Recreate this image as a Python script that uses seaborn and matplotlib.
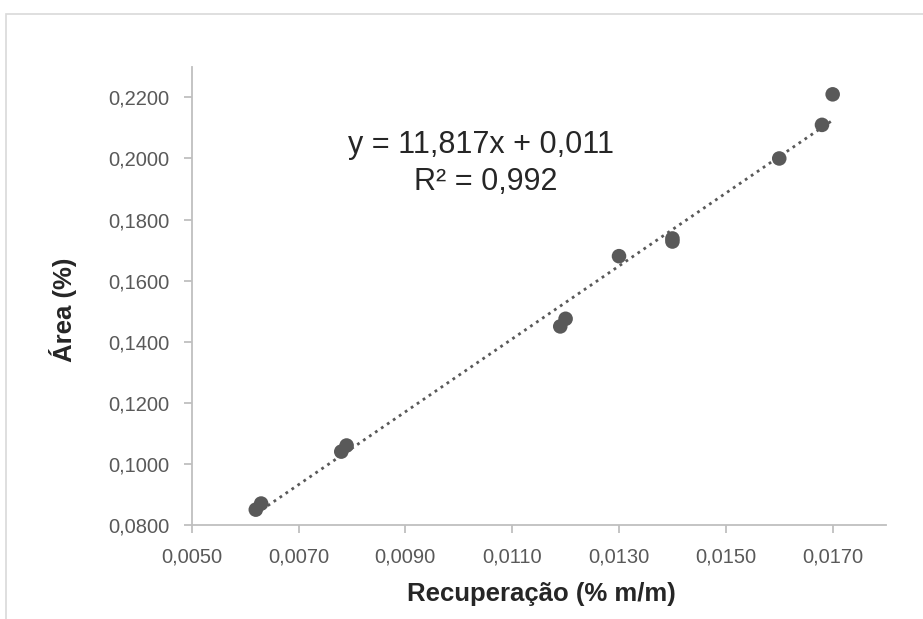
"""Calibration scatter: Área (%) vs Recuperação (% m/m) with linear trendline."""

import matplotlib

matplotlib.use("Agg")
import matplotlib.pyplot as plt
import numpy as np
import pandas as pd
import seaborn as sns
from matplotlib.patches import Rectangle
from matplotlib.ticker import FuncFormatter, MultipleLocator

# values
recuperacao = [0.0062, 0.0063, 0.0078, 0.0079, 0.0119, 0.0120,
               0.0130, 0.0140, 0.0140, 0.0160, 0.0168, 0.0170]
area = [0.0850, 0.0870, 0.1040, 0.1060, 0.1450, 0.1475,
        0.1680, 0.1728, 0.1738, 0.2000, 0.2110, 0.2210]
x_ticks = [0.0050, 0.0070, 0.0090, 0.0110, 0.0130, 0.0150, 0.0170]
equation = "y = 11,817x + 0,011"
r_squared = "R² = 0,992"

df = pd.DataFrame({"rec": recuperacao, "area": area})

sns.set_theme(style="white")
plt.rcParams["font.family"] = ["Liberation Sans", "DejaVu Sans"]

GRAY = "#595959"
AXIS = "#bfbfbf"

fig = plt.figure(figsize=(9.23, 6.19), dpi=100)
ax = fig.add_axes([0.2077, 0.152, 0.7523, 0.740])

sns.scatterplot(data=df, x="rec", y="area", ax=ax, color=GRAY, s=110,
                edgecolor="none", zorder=3)
sns.regplot(data=df, x="rec", y="area", ax=ax, scatter=False, ci=None,
            line_kws={"color": GRAY, "linewidth": 2.0,
                      "linestyle": (0, (1, 1.6))})

ax.set_xlim(0.005, 0.018)
ax.set_ylim(0.08, 0.23)
ax.set_xticks(x_ticks)
ax.yaxis.set_major_locator(MultipleLocator(0.02))
fmt = FuncFormatter(lambda v, _: f"{v:.4f}".replace(".", ","))
ax.xaxis.set_major_formatter(fmt)
ax.yaxis.set_major_formatter(fmt)

for side in ("top", "right"):
    ax.spines[side].set_visible(False)
for side in ("left", "bottom"):
    ax.spines[side].set_color(AXIS)
    ax.spines[side].set_linewidth(1.3)
ax.tick_params(axis="both", direction="out", length=6, width=1.3,
               color=AXIS, labelcolor=GRAY, labelsize=14.5, pad=10,
               bottom=True, left=True)

ax.set_xlabel("Recuperação (% m/m)", fontsize=18.5, fontweight="bold",
              color="#262626")
ax.set_ylabel("Área (%)", fontsize=18.5, fontweight="bold", color="#262626")
ax.xaxis.set_label_coords(0.503, -0.125)
ax.yaxis.set_label_coords(-0.165, 0.47)

fig.text(481 / 923, 1 - 153 / 619, equation, ha="center", va="baseline",
         fontsize=22, color="#262626")
fig.text(486 / 923, 1 - 190 / 619, r_squared, ha="center", va="baseline",
         fontsize=22, color="#262626")

# outer chart-area border (cut off at right and bottom in the reference)
fig.patches.append(Rectangle((6 / 923, -0.5), 2, 0.978 + 0.5,
                             transform=fig.transFigure, fill=False,
                             edgecolor="#d9d9d9", linewidth=1.2))

fig.savefig("out.png", dpi=100)
plt.close(fig)
